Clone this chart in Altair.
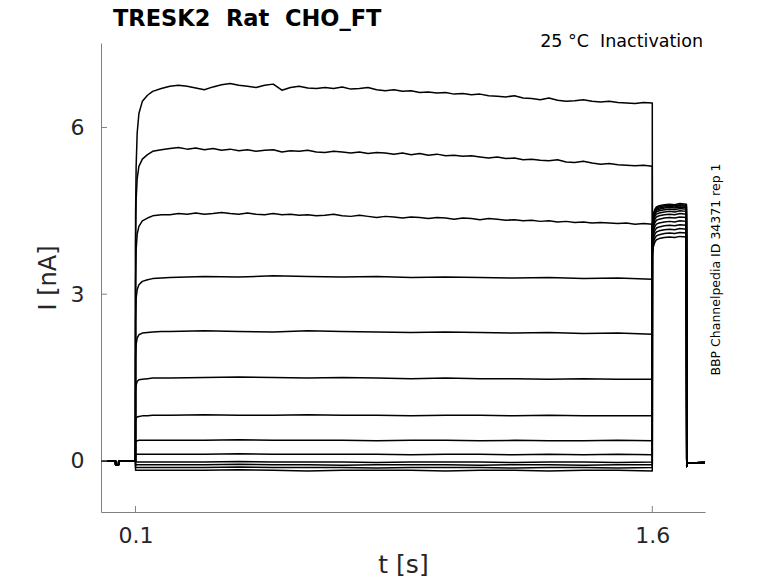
import altair as alt
import pandas as pd

# ---- time grids (s) ----
t_pre = [0.0, 0.042, 0.0425, 0.051, 0.0515, 0.0997]
v_pre = [0.0, 0.0, -0.07, -0.07, 0.0, 0.0]

t_rise = [0.1, 0.1003, 0.102, 0.105, 0.11, 0.12, 0.135, 0.15, 0.175]

t_fine = [0.2, 0.225, 0.25, 0.275, 0.3, 0.325, 0.35, 0.375, 0.4, 0.425,
          0.45, 0.475, 0.5, 0.525, 0.55, 0.575, 0.6, 0.625, 0.65, 0.675,
          0.7, 0.725, 0.75, 0.775, 0.8, 0.825, 0.85, 0.875, 0.9, 0.925,
          0.95, 0.975, 1.0, 1.025, 1.05, 1.075, 1.1, 1.125, 1.15, 1.175,
          1.2, 1.225, 1.25, 1.275, 1.3, 1.325, 1.35, 1.375, 1.4, 1.425,
          1.45, 1.475, 1.5, 1.525, 1.55, 1.575, 1.6]

t_mid = [0.2, 0.3, 0.4, 0.5, 0.6, 0.7, 0.8, 0.9, 1.0, 1.1, 1.2, 1.3, 1.4, 1.5, 1.6]

t_tail = [1.6003, 1.603, 1.607, 1.612, 1.62, 1.635, 1.65, 1.665, 1.68, 1.699]

t_off = [1.7, 1.7008, 1.703, 1.753]
v_off = [-0.10, -0.06, -0.04, -0.03]

# ---- current traces (nA) ----
rise = {
    "A": [0, 4.4, 5.3, 5.9, 6.25, 6.47, 6.58, 6.65, 6.70],
    "B": [0, 3.9, 4.7, 5.08, 5.30, 5.43, 5.51, 5.57, 5.60],
    "C": [0, 3.2, 3.8, 4.08, 4.22, 4.32, 4.37, 4.41, 4.43],
    "D": [0, 2.5, 2.93, 3.08, 3.17, 3.23, 3.26, 3.28, 3.29],
    "E": [0, 1.85, 2.10, 2.21, 2.27, 2.30, 2.31, 2.32, 2.33],
    "F": [0, 1.25, 1.37, 1.43, 1.46, 1.47, 1.48, 1.49, 1.49],
    "G": [0, 0.72, 0.77, 0.79, 0.80, 0.81, 0.81, 0.82, 0.82],
    "H": [0, 0.34, 0.36, 0.36, 0.37, 0.37, 0.37, 0.37, 0.37],
    "I": [0, 0.11, 0.12, 0.12, 0.12, 0.12, 0.12, 0.12, 0.12],
    "J": [0, -0.02, -0.02, -0.02, -0.02, -0.02, -0.02, -0.02, -0.02],
    "K": [0, -0.07, -0.07, -0.07, -0.07, -0.07, -0.07, -0.07, -0.07],
    "L": [0, -0.12, -0.12, -0.12, -0.12, -0.12, -0.12, -0.12, -0.12],
    "M": [0, -0.17, -0.17, -0.17, -0.17, -0.17, -0.17, -0.17, -0.17],
}

plateau_fine = {
    "A": [6.74, 6.76, 6.74, 6.71, 6.68, 6.73, 6.77, 6.79, 6.76, 6.74,
          6.72, 6.76, 6.78, 6.67, 6.72, 6.74, 6.71, 6.70, 6.72, 6.70,
          6.73, 6.69, 6.70, 6.72, 6.68, 6.66, 6.68, 6.65, 6.66, 6.63,
          6.64, 6.62, 6.63, 6.60, 6.61, 6.59, 6.60, 6.57, 6.56, 6.55,
          6.57, 6.53, 6.52, 6.50, 6.53, 6.49, 6.47, 6.48, 6.50, 6.47,
          6.46, 6.47, 6.45, 6.44, 6.43, 6.45, 6.44],
    "B": [5.62, 5.64, 5.61, 5.63, 5.60, 5.62, 5.59, 5.61, 5.58, 5.60,
          5.57, 5.59, 5.60, 5.56, 5.58, 5.57, 5.59, 5.56, 5.55, 5.57,
          5.56, 5.54, 5.56, 5.53, 5.55, 5.54, 5.52, 5.54, 5.51, 5.53,
          5.50, 5.52, 5.49, 5.50, 5.48, 5.49, 5.47, 5.45, 5.47, 5.44,
          5.45, 5.42, 5.43, 5.41, 5.40, 5.42, 5.38, 5.37, 5.39, 5.36,
          5.34, 5.35, 5.33, 5.32, 5.31, 5.32, 5.30],
    "C": [4.43, 4.45, 4.44, 4.46, 4.44, 4.45, 4.47, 4.45, 4.44, 4.46,
          4.44, 4.43, 4.45, 4.43, 4.44, 4.42, 4.43, 4.41, 4.42, 4.44,
          4.41, 4.40, 4.42, 4.40, 4.38, 4.40, 4.39, 4.37, 4.39, 4.38,
          4.36, 4.38, 4.37, 4.35, 4.37, 4.36, 4.34, 4.36, 4.35, 4.33,
          4.34, 4.32, 4.33, 4.31, 4.32, 4.30, 4.31, 4.29, 4.30, 4.28,
          4.29, 4.28, 4.27, 4.28, 4.26, 4.27, 4.26],
}

plateau_mid = {
    "D": [3.30, 3.32, 3.31, 3.33, 3.32, 3.31, 3.32, 3.30, 3.31, 3.30, 3.29, 3.30, 3.28, 3.29, 3.27],
    "E": [2.33, 2.34, 2.33, 2.32, 2.34, 2.33, 2.32, 2.31, 2.32, 2.31, 2.30, 2.31, 2.29, 2.30, 2.28],
    "F": [1.49, 1.50, 1.51, 1.50, 1.49, 1.50, 1.49, 1.48, 1.49, 1.48, 1.48, 1.47, 1.48, 1.47, 1.47],
    "G": [0.82, 0.83, 0.82, 0.82, 0.83, 0.82, 0.82, 0.81, 0.82, 0.82, 0.81, 0.82, 0.81, 0.81, 0.81],
    "H": [0.37, 0.37, 0.38, 0.37, 0.37, 0.37, 0.36, 0.37, 0.37, 0.36, 0.37, 0.36, 0.36, 0.37, 0.36],
    "I": [0.12, 0.12, 0.13, 0.12, 0.12, 0.12, 0.12, 0.11, 0.12, 0.12, 0.11, 0.12, 0.11, 0.12, 0.11],
    "J": [-0.02, -0.02, -0.01, -0.02, -0.02, -0.02, -0.03, -0.02, -0.02, -0.02, -0.03, -0.02, -0.02, -0.03, -0.02],
    "K": [-0.07, -0.07, -0.06, -0.07, -0.07, -0.08, -0.07, -0.07, -0.07, -0.08, -0.07, -0.07, -0.08, -0.07, -0.07],
    "L": [-0.12, -0.12, -0.11, -0.12, -0.12, -0.12, -0.13, -0.12, -0.12, -0.12, -0.13, -0.12, -0.12, -0.13, -0.12],
    "M": [-0.17, -0.17, -0.16, -0.17, -0.18, -0.17, -0.17, -0.17, -0.18, -0.17, -0.17, -0.18, -0.17, -0.17, -0.18],
}

tail = {
    "A": [3.70, 3.85, 3.93, 3.98, 4.00, 4.02, 4.03, 4.02, 4.04, 4.03],
    "B": [3.78, 3.92, 4.00, 4.05, 4.07, 4.09, 4.10, 4.09, 4.11, 4.10],
    "C": [3.85, 3.99, 4.07, 4.12, 4.14, 4.16, 4.17, 4.16, 4.18, 4.17],
    "D": [3.92, 4.06, 4.14, 4.19, 4.21, 4.23, 4.24, 4.23, 4.25, 4.24],
    "E": [3.98, 4.12, 4.21, 4.26, 4.28, 4.30, 4.31, 4.30, 4.32, 4.31],
    "F": [4.04, 4.19, 4.28, 4.33, 4.35, 4.37, 4.38, 4.37, 4.39, 4.38],
    "G": [4.10, 4.25, 4.34, 4.39, 4.41, 4.43, 4.44, 4.43, 4.45, 4.44],
    "H": [4.14, 4.30, 4.39, 4.44, 4.46, 4.48, 4.49, 4.48, 4.50, 4.49],
    "I": [4.18, 4.34, 4.43, 4.48, 4.50, 4.52, 4.53, 4.52, 4.54, 4.53],
    "J": [4.20, 4.37, 4.46, 4.51, 4.53, 4.55, 4.56, 4.55, 4.57, 4.56],
    "K": [4.22, 4.39, 4.48, 4.53, 4.55, 4.57, 4.58, 4.57, 4.59, 4.58],
    "L": [4.24, 4.41, 4.50, 4.55, 4.57, 4.59, 4.60, 4.59, 4.61, 4.60],
    "M": [4.26, 4.43, 4.52, 4.57, 4.59, 4.61, 4.62, 4.61, 4.63, 4.62],
}

x_ticks = [0.1, 1.6]
y_ticks = [0, 3, 6]

NB = "\u00a0"
title_text = "TRESK2" + NB + NB + "Rat" + NB + NB + "CHO_FT"
cond_text = "25" + NB + "°C" + NB + NB + "Inactivation"
id_text = "BBP Channelpedia ID 34371 rep 1"

# ---- build table ----
rows = []
for k in rise:
    if k in plateau_fine:
        tp, vp = t_fine, plateau_fine[k]
    else:
        tp, vp = t_mid, plateau_mid[k]
    ts = t_pre + t_rise + tp + t_tail + t_off
    vs = v_pre + rise[k] + vp + tail[k] + v_off
    for t, v in zip(ts, vs):
        rows.append({"trace": k, "t": t, "I": v})
df = pd.DataFrame(rows)

W, H = 604, 469
xs = alt.Scale(domain=[0, 1.753], nice=False, zero=False)
ys = alt.Scale(domain=[-0.92, 7.52], nice=False, zero=False)
AX = "#808080"
TXT = "#262626"
FONT = "DejaVu Sans"

lines = alt.Chart(df).mark_line(color="black", strokeWidth=1.5, strokeJoin="round").encode(
    x=alt.X("t:Q", scale=xs, title="t [s]",
            axis=alt.Axis(values=x_ticks, format=".1f", tickSize=0, labelPadding=13,
                          titlePadding=6, titleFontSize=25, grid=False)),
    y=alt.Y("I:Q", scale=ys, title="I [nA]",
            axis=alt.Axis(values=y_ticks, format="d", tickSize=0, labelPadding=17,
                          titlePadding=10, titleFontSize=24, grid=False)),
    detail="trace:N",
    order="t:Q",
)

xt = alt.Chart(pd.DataFrame({"t": x_ticks})).mark_rule(color=AX, strokeWidth=1).encode(
    x=alt.X("t:Q", scale=xs), y=alt.value(H), y2=alt.value(H - 6))
yt = alt.Chart(pd.DataFrame({"I": y_ticks})).mark_rule(color=AX, strokeWidth=1).encode(
    y=alt.Y("I:Q", scale=ys), x=alt.value(0), x2=alt.value(6))

ttl = alt.Chart(pd.DataFrame({"s": [title_text]})).mark_text(
    align="left", baseline="alphabetic", font=FONT, fontSize=22.5, fontWeight="bold", color="black"
).encode(text="s:N", x=alt.value(12), y=alt.value(-17))

cond = alt.Chart(pd.DataFrame({"s": [cond_text]})).mark_text(
    align="right", baseline="alphabetic", font=FONT, fontSize=17.5, color="black"
).encode(text="s:N", x=alt.value(602), y=alt.value(3.5))

ident = alt.Chart(pd.DataFrame({"s": [id_text]})).mark_text(
    align="center", baseline="middle", font=FONT, fontSize=12.5, angle=270, color="black"
).encode(text="s:N", x=alt.value(615), y=alt.value(226.5))

chart = alt.layer(lines, xt, yt, ttl, cond, ident).properties(
    width=W, height=H,
    autosize=alt.AutoSizeParams(type="none"),
    padding={"left": 93, "top": 35, "right": 60, "bottom": 71},
).configure_view(stroke=None).configure_axis(
    domainColor=AX, domainWidth=1, labelColor=TXT, titleColor=TXT,
    labelFont=FONT, titleFont=FONT, labelFontSize=22,
    titleFontWeight="normal",
)

chart.save("out.html", embed_options={"renderer": "svg", "actions": False})
